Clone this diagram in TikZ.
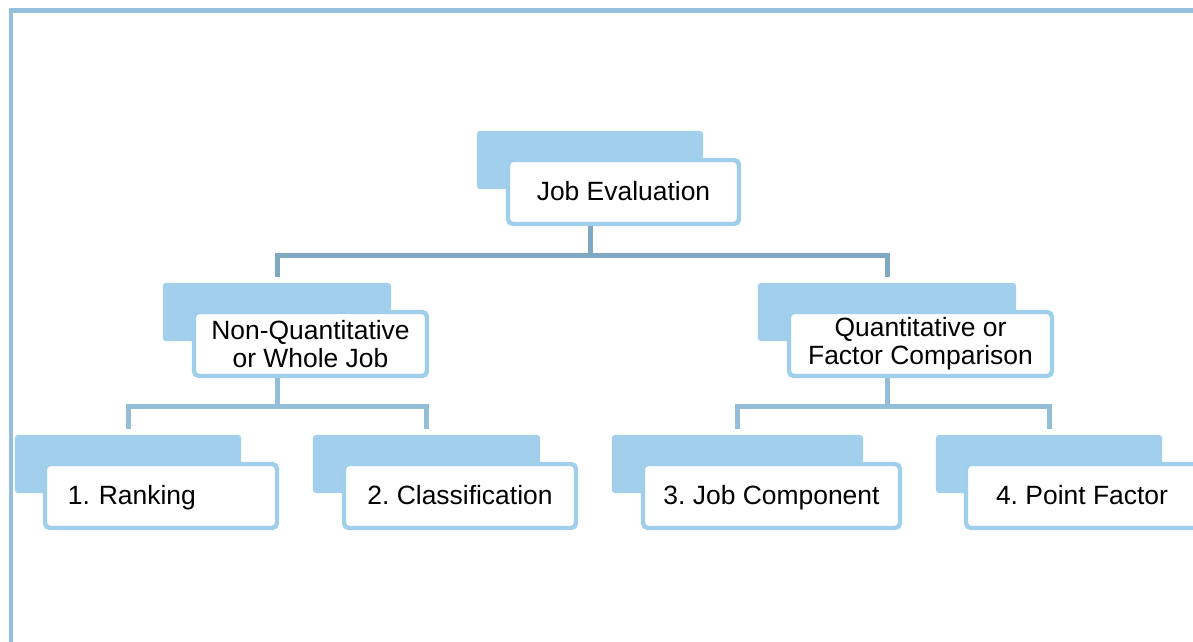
\documentclass[tikz,border=0pt]{standalone}
\usepackage{fontspec}
\setmainfont{Liberation Sans}
\usepackage{xcolor}
\usetikzlibrary{calc, positioning}

\definecolor{boxblue}{HTML}{A2D0EC}
\definecolor{edgeblue}{HTML}{A0CFEB}
\definecolor{linktop}{HTML}{80A8C0}
\definecolor{linklow}{HTML}{94BDD8}
\definecolor{frameblue}{HTML}{94BFDC}

\frenchspacing
\begin{document}
\begin{tikzpicture}[x=0.025cm, y=-0.025cm,
		back/.style={fill=boxblue, rounded corners=2pt, minimum height=1.45cm, inner sep=0pt},
		front/.style={draw=edgeblue, fill=white, line width=0.11cm, rounded corners=3.5pt, minimum height=1.6cm, inner sep=2pt, align=center, text height=14pt, text depth=2.6pt, font=\fontsize{18.8}{20}\selectfont},
		twoline/.style={text height=, text depth=},
		toplink/.style={draw=linktop, line width=0.125cm},
		lowlink/.style={draw=linklow, line width=0.125cm}]
				\useasboundingbox (0,0) rectangle (1193,642);
				\draw[frameblue, line width=0.11cm] (11,642) -- (11,10.5) -- (1193,10.5);
				
				\node[back, minimum width=5.65cm] (jeb) at (590,160) {};
				\node[front, minimum width=5.775cm] (jef) at (623.5,192) {Job Evaluation};
				
				\node[back, minimum width=5.7cm] (nqb) at (277,312) {};
				\node[front, twoline, minimum width=5.825cm] (nqf) at (310.5,344) {Non-Quantitative\\or Whole Job};
				\node[back, minimum width=6.45cm] (qb) at (887,312) {};
				\node[front, twoline, minimum width=6.575cm] (qf) at (920.5,344) {Quantitative or\\Factor Comparison};
				
				\node[back, minimum width=5.65cm] (rb) at (128,464) {};
				\node[front, text width=4.65cm, align=left, inner xsep=0.575cm] (rf) at (161,496) {1. Ranking};
				\node[back, minimum width=5.675cm] (cb) at (426.5,464) {};
				\node[front, minimum width=5.8cm] (cf) at (460,496) {2. Classification};
				\node[back, minimum width=6.275cm] (jcb) at (737.5,464) {};
				\node[front, minimum width=6.425cm] (jcf) at (771.5,496) {3. Job Component};
				\node[back, minimum width=5.65cm] (pfb) at (1049,464) {};
				\node[front, minimum width=5.8cm] (pff) at (1082,496) {4. Point Factor};
				
				\draw[toplink] (jeb.center |- jef.south) -- ++(0,29) -| ([yshift=0.15cm]nqb.north);
				\draw[toplink] (jeb.center |- jef.south) -- ++(0,29) -| ([yshift=0.15cm]qb.north);
				
				\draw[lowlink] (nqb.center |- nqf.south) -- ++(0,28) -| ([yshift=0.15cm]rb.north);
				\draw[lowlink] (nqb.center |- nqf.south) -- ++(0,28) -| ([yshift=0.15cm]cb.north);
				\draw[lowlink] (qb.center |- qf.south) -- ++(0,28) -| ([yshift=0.15cm]jcb.north);
				\draw[lowlink] (qb.center |- qf.south) -- ++(0,28) -| ([yshift=0.15cm]pfb.north);
			\end{tikzpicture}
\end{document}
